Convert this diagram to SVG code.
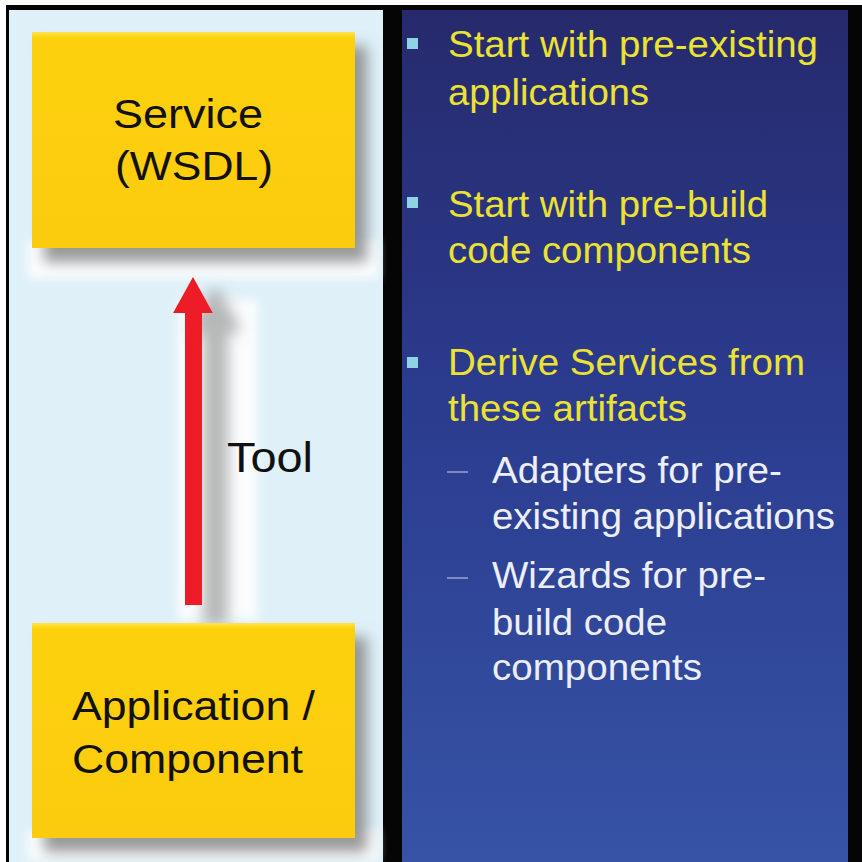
<svg xmlns="http://www.w3.org/2000/svg" width="862" height="862" viewBox="0 0 862 862">
<defs>
<linearGradient id="panel" x1="0" y1="0" x2="0" y2="1">
<stop offset="0" stop-color="#262a6c"/>
<stop offset="0.45" stop-color="#2b3b8e"/>
<stop offset="1" stop-color="#3653a5"/>
</linearGradient>
<linearGradient id="box" x1="0" y1="0" x2="0" y2="1">
<stop offset="0" stop-color="#fde44a"/>
<stop offset="0.03" stop-color="#fdd00c"/>
<stop offset="1" stop-color="#fbcc08"/>
</linearGradient>
<filter id="shadow" x="-20%" y="-20%" width="150%" height="150%">
<feGaussianBlur in="SourceAlpha" stdDeviation="7"/>
<feOffset dx="12" dy="14" result="b"/>
<feFlood flood-color="#808080" flood-opacity="0.8"/>
<feComposite in2="b" operator="in" result="s"/>
<feMerge><feMergeNode in="s"/><feMergeNode in="SourceGraphic"/></feMerge>
</filter>
<filter id="ashadow" x="-150%" y="-20%" width="500%" height="150%">
<feMorphology in="SourceAlpha" operator="dilate" radius="4" result="d"/>
<feGaussianBlur in="d" stdDeviation="7"/>
<feOffset dx="22" dy="16" result="b"/>
<feFlood flood-color="#9a9a9a" flood-opacity="0.7"/>
<feComposite in2="b" operator="in" result="s"/>
<feMerge><feMergeNode in="s"/><feMergeNode in="SourceGraphic"/></feMerge>
</filter>
<filter id="glow" x="-20%" y="-20%" width="140%" height="140%">
<feGaussianBlur stdDeviation="5"/>
</filter>
</defs>
<style>
.lbl{font-family:"Liberation Sans",Arial,sans-serif;fill:#111;}
.y{font-family:"Liberation Sans",Arial,sans-serif;font-size:37px;fill:#ece232;}
.w{font-family:"Liberation Sans",Arial,sans-serif;font-size:37px;fill:#eceef8;}
.bul{fill:#8ed4e4;}
.dash{stroke:#9aa4d0;stroke-width:1.5;}
</style>
<rect x="0" y="0" width="862" height="862" fill="#ffffff"/>
<rect x="6" y="5" width="856" height="857" fill="#050505"/>
<rect x="9" y="10" width="374" height="852" fill="#dff0f8"/>
<rect x="402" y="10" width="446" height="852" fill="url(#panel)"/>

<!-- soft white halos -->
<rect x="28" y="240" width="350" height="38" fill="#ffffff" filter="url(#glow)" opacity="0.9"/>
<rect x="28" y="830" width="350" height="30" fill="#ffffff" filter="url(#glow)" opacity="0.9"/>
<rect x="178" y="300" width="80" height="320" fill="#ffffff" filter="url(#glow)" opacity="0.85"/>

<g id="connectors">
<g filter="url(#ashadow)">
<polygon points="193,277 213,313 202,313 202,605 185,605 185,313 173,313" fill="#ee1c25"/>
</g>
<text class="lbl" x="227" y="472" font-size="42" textLength="86" lengthAdjust="spacingAndGlyphs">Tool</text>
</g>

<g id="service">
<rect x="32" y="32" width="323" height="216" fill="url(#box)" filter="url(#shadow)"/>
<text class="lbl" x="188" y="128" font-size="40" text-anchor="middle" textLength="150" lengthAdjust="spacingAndGlyphs">Service</text>
<text class="lbl" x="194" y="180" font-size="40" text-anchor="middle" textLength="158" lengthAdjust="spacingAndGlyphs">(WSDL)</text>
</g>

<g id="application">
<rect x="32" y="623" width="323" height="215" fill="url(#box)" filter="url(#shadow)"/>
<text class="lbl" x="72" y="720" font-size="40" textLength="243" lengthAdjust="spacingAndGlyphs">Application /</text>
<text class="lbl" x="72" y="773" font-size="40" textLength="231" lengthAdjust="spacingAndGlyphs">Component</text>
</g>

<g id="bullets">
<rect class="bul" x="407" y="38" width="11" height="11"/>
<text class="y" x="448" y="57" textLength="370" lengthAdjust="spacingAndGlyphs">Start with pre-existing</text>
<text class="y" x="448" y="105" textLength="201" lengthAdjust="spacingAndGlyphs">applications</text>

<rect class="bul" x="407" y="197" width="11" height="11"/>
<text class="y" x="448" y="217" textLength="320" lengthAdjust="spacingAndGlyphs">Start with pre-build</text>
<text class="y" x="448" y="263" textLength="303" lengthAdjust="spacingAndGlyphs">code components</text>

<rect class="bul" x="407" y="357" width="11" height="11"/>
<text class="y" x="448" y="375" textLength="357" lengthAdjust="spacingAndGlyphs">Derive Services from</text>
<text class="y" x="448" y="421" textLength="239" lengthAdjust="spacingAndGlyphs">these artifacts</text>

<line class="dash" x1="447" y1="472" x2="468" y2="472"/>
<text class="w" x="492" y="483" textLength="290" lengthAdjust="spacingAndGlyphs">Adapters for pre-</text>
<text class="w" x="492" y="529" textLength="343" lengthAdjust="spacingAndGlyphs">existing applications</text>

<line class="dash" x1="447" y1="578" x2="468" y2="578"/>
<text class="w" x="492" y="588" textLength="274" lengthAdjust="spacingAndGlyphs">Wizards for pre-</text>
<text class="w" x="492" y="635" textLength="175" lengthAdjust="spacingAndGlyphs">build code</text>
<text class="w" x="492" y="680" textLength="210" lengthAdjust="spacingAndGlyphs">components</text>
</g>
</svg>
